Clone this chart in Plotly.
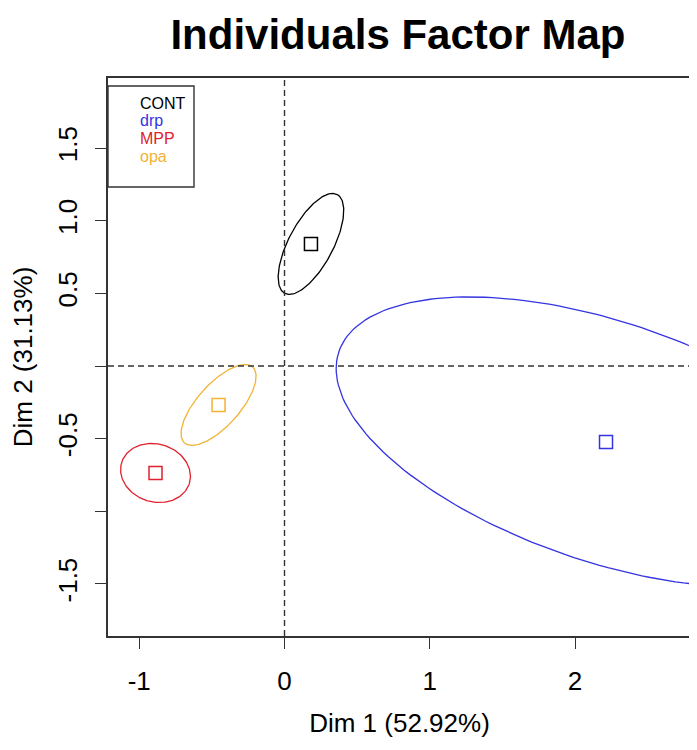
import numpy as np
import plotly.graph_objects as go

# group barycentres on the first two dimensions
groups = ["CONT", "drp", "MPP", "opa"]
dim1 = [0.182, 2.213, -0.888, -0.454]
dim2 = [0.840, -0.523, -0.736, -0.268]
colors = ["black", "#3434e0", "#e0202c", "#f2b233"]

# confidence ellipses: semi-axes and orientation (degrees)
ell_a = [0.385, 1.941, 0.244, 0.351]
ell_b = [0.153, 0.824, 0.199, 0.145]
ell_angle = [62.0, -18.7, -17.0, 48.0]

ytick_vals = [-1.5, -1.0, -0.5, 0.0, 0.5, 1.0, 1.5]
ytick_text = ["-1.5", "", "-0.5", "", "0.5", "1.0", "1.5"]
xtick_vals = [-1, 0, 1, 2]
xtick_text = ["-1", "0", "1", "2"]

FONT = "Liberation Sans, Arial, sans-serif"

fig = go.Figure()

t = np.linspace(0, 2 * np.pi, 200)
for g, cx, cy, a, b, ang, col in zip(groups, dim1, dim2, ell_a, ell_b, ell_angle, colors):
    th = np.deg2rad(ang)
    ex = cx + a * np.cos(t) * np.cos(th) - b * np.sin(t) * np.sin(th)
    ey = cy + a * np.cos(t) * np.sin(th) + b * np.sin(t) * np.cos(th)
    fig.add_trace(
        go.Scatter(x=ex, y=ey, mode="lines", line=dict(color=col, width=1.3),
                   showlegend=False, hoverinfo="skip")
    )
    fig.add_trace(
        go.Scatter(x=[cx], y=[cy], mode="markers", name=g,
                   marker=dict(symbol="square-open", size=13, color=col,
                               line=dict(width=1.5, color=col)),
                   showlegend=False)
    )

# reference lines
fig.add_hline(y=0, line=dict(color="#333333", width=1.4, dash="6px,4px"))
fig.add_vline(x=0, line=dict(color="#333333", width=1.4, dash="6px,4px"))

# legend box (text only, like R's legend with no symbols)
fig.add_shape(type="rect", xref="x domain", yref="y domain",
              x0=0, x1=0.1475, y0=0.8047, y1=0.9857,
              line=dict(color="#333333", width=1.4), fillcolor="white")
leg_y = [0.955, 0.923, 0.892, 0.860]
for g, col, yy in zip(groups, colors, leg_y):
    fig.add_annotation(x=0.0515, y=yy, xref="x domain", yref="y domain",
                       text=g, showarrow=False, xanchor="left", yanchor="middle",
                       font=dict(family=FONT, size=16, color=col))

axis_common = dict(
    showline=True, mirror=True, linecolor="#333333", linewidth=1.6,
    showgrid=False, zeroline=False, ticks="outside", ticklen=11,
    tickcolor="#333333", tickwidth=1.3, automargin=False,
    tickfont=dict(family=FONT, size=26, color="black"),
)

# page body adds an 8px offset, so the figure is sized to fit the window
fig.update_layout(
    width=689, height=742,
    margin=dict(l=100, r=6, t=70, b=114),
    paper_bgcolor="white", plot_bgcolor="white",
    title=dict(text="<b>Individuals Factor Map</b>", x=0.566, xanchor="center",
               y=0.964, yanchor="middle",
               font=dict(family=FONT, size=42, color="black")),
    xaxis=dict(range=[-1.215, 2.798], tickvals=xtick_vals, ticktext=xtick_text,
               title=dict(text="Dim 1 (52.92%)", standoff=19,
                          font=dict(family=FONT, size=26, color="black")),
               ticklabelstandoff=10,
               **axis_common),
    yaxis=dict(range=[-1.858, 1.982], tickvals=ytick_vals, ticktext=ytick_text,
               tickangle=-90,
               title=dict(text="Dim 2 (31.13%)", standoff=20,
                          font=dict(family=FONT, size=26, color="black")),
               ticklabelstandoff=8,
               **axis_common),
    showlegend=False,
)

fig.write_html("out.html")
